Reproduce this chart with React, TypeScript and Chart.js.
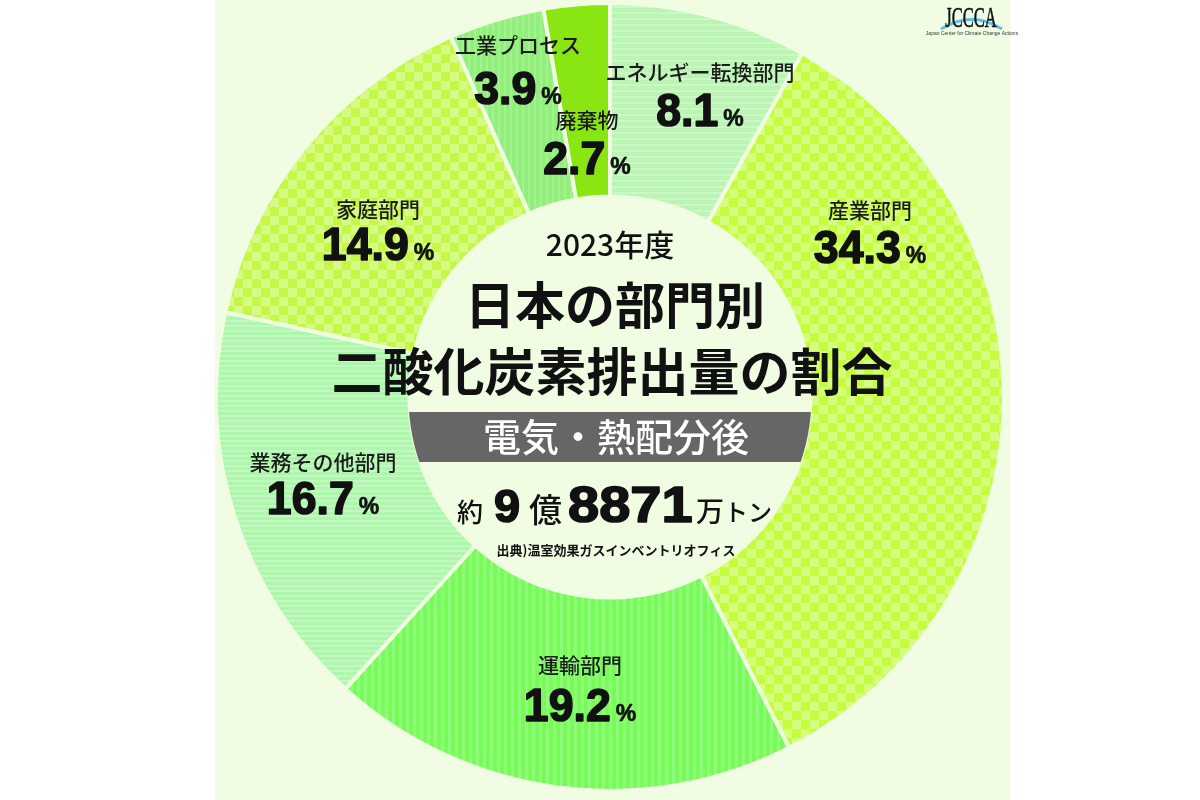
import React, { useEffect, useRef } from 'react';
import { Chart, registerables } from 'chart.js';

Chart.register(...registerables);

// ---- data ----
const sectors = ['エネルギー転換部門', '産業部門', '運輸部門', '業務その他部門', '家庭部門', '工業プロセス', '廃棄物'];
const shares = [8.1, 34.3, 19.2, 16.7, 14.9, 3.9, 2.7];
const shareTexts = ['8.1', '34.3', '19.2', '16.7', '14.9', '3.9', '2.7'];

// label placement (text only)
const labelX = [700, 870, 580, 323, 378, 518, 587];
const nameY = [72, 210, 665, 462, 209, 45, 120];
const pctBaseY = [126, 263, 721, 514, 260, 104, 174];

const titleYear = '2023年度';
const titleLine1 = '日本の部門別';
const titleLine2 = '二酸化炭素排出量の割合';
const subTitle = '電気・熱配分後';
const sourceText = '出典)温室効果ガスインベントリオフィス';

const JP = '"Noto Sans CJK JP", "Noto Sans", sans-serif';
const NUM = '"Liberation Sans", Arial, sans-serif';
const BG = '#f0fde3';

function stripePattern(a: string, b: string, period: number, lightW: number, vertical: boolean) {
  const c = document.createElement('canvas');
  c.width = period;
  c.height = period;
  const g = c.getContext('2d')!;
  g.fillStyle = a;
  g.fillRect(0, 0, period, period);
  g.fillStyle = b;
  if (vertical) g.fillRect(0, 0, lightW, period);
  else g.fillRect(0, 0, period, lightW);
  return g.createPattern(c, 'repeat')!;
}

function checkerPattern(a: string, b: string, cell: number) {
  const c = document.createElement('canvas');
  c.width = cell * 2;
  c.height = cell * 2;
  const g = c.getContext('2d')!;
  g.fillStyle = a;
  g.fillRect(0, 0, cell * 2, cell * 2);
  g.fillStyle = b;
  g.fillRect(0, 0, cell, cell);
  g.fillRect(cell, cell, cell, cell);
  return g.createPattern(c, 'repeat')!;
}

function txt(ctx: CanvasRenderingContext2D, s: string, x: number, y: number, font: string, color: string,
  align: CanvasTextAlign = 'center', base: CanvasTextBaseline = 'middle', sx = 1, stroke = 0) {
  ctx.save();
  ctx.font = font;
  ctx.fillStyle = color;
  ctx.textAlign = align;
  ctx.textBaseline = base;
  ctx.translate(x, y);
  ctx.scale(sx, 1);
  ctx.fillText(s, 0, 0);
  if (stroke > 0) {
    ctx.strokeStyle = color;
    ctx.lineWidth = stroke;
    ctx.lineJoin = 'round';
    ctx.strokeText(s, 0, 0);
  }
  ctx.restore();
}

const decorPlugin = {
  id: 'decor',
  beforeDraw(chart: any) {
    const ctx = chart.ctx as CanvasRenderingContext2D;
    ctx.save();
    ctx.fillStyle = '#ffffff';
    ctx.fillRect(0, 0, chart.width, chart.height);
    ctx.fillStyle = BG;
    ctx.fillRect(215, 0, 795, chart.height);
    ctx.restore();
  },
  afterDraw(chart: any) {
    const ctx = chart.ctx as CanvasRenderingContext2D;
    const meta = chart.getDatasetMeta(0);
    const arc0 = meta.data[0];
    const cx = arc0.x;
    const cy = arc0.y;
    const inner = arc0.innerRadius;

    // segment labels
    for (let i = 0; i < sectors.length; i++) {
      txt(ctx, sectors[i], labelX[i], nameY[i], `500 21px ${JP}`, '#1a1a1a');
      ctx.save();
      ctx.font = `bold 46px ${NUM}`;
      const w1 = ctx.measureText(shareTexts[i]).width * 0.97;
      ctx.font = `bold 23px ${NUM}`;
      const w2 = ctx.measureText('%').width;
      ctx.restore();
      const gap = 5;
      const total = w1 + gap + w2;
      const left = labelX[i] - total / 2;
      txt(ctx, shareTexts[i], left, pctBaseY[i], `bold 46px ${NUM}`, '#111', 'left', 'alphabetic', 0.97, 1.6);
      txt(ctx, '%', left + w1 + gap, pctBaseY[i], `bold 23px ${NUM}`, '#111', 'left', 'alphabetic', 1, 0.6);
    }

    // center texts
    txt(ctx, titleYear, cx, 245, `500 30px ${JP}`, '#111');
    txt(ctx, titleLine1, cx + 5, 305, `bold 50px ${JP}`, '#111');
    txt(ctx, titleLine2, cx + 2, 372, `bold 51px ${JP}`, '#111');

    // grey band
    ctx.save();
    ctx.beginPath();
    ctx.arc(cx, cy, inner + 1, 0, Math.PI * 2);
    ctx.clip();
    ctx.fillStyle = '#666666';
    ctx.fillRect(cx - 205, 412, 410, 50);
    ctx.restore();
    txt(ctx, subTitle, cx + 6, 437, `500 38px ${JP}`, '#ffffff');

    // total
    const base = 522;
    txt(ctx, '約', 457, base, `500 26px ${JP}`, '#111', 'left', 'alphabetic');
    txt(ctx, '9', 494, base, `bold 47px ${NUM}`, '#111', 'left', 'alphabetic', 1, 1.6);
    txt(ctx, '億', 529, base, `500 33px ${JP}`, '#111', 'left', 'alphabetic');
    txt(ctx, '8871', 568, base, `bold 50px ${NUM}`, '#111', 'left', 'alphabetic', 1.12, 1.6);
    txt(ctx, '万', 696, base, `500 28px ${JP}`, '#111', 'left', 'alphabetic');
    txt(ctx, 'トン', 724, base - 1, `500 24px ${JP}`, '#111', 'left', 'alphabetic');

    txt(ctx, sourceText, 616, 550, `bold 13px ${JP}`, '#111');

    // logo
    ctx.save();
    ctx.strokeStyle = '#5fc0ea';
    ctx.lineWidth = 3;
    ctx.beginPath();
    ctx.moveTo(941, 29);
    ctx.quadraticCurveTo(972, 10, 1002, 29);
    ctx.stroke();
    ctx.restore();
    txt(ctx, 'JCCCA', 971, 19, `30px "Liberation Serif", serif`, '#111', 'center', 'middle', 0.55, 0.6);
    txt(ctx, 'Japan Center for Climate Change Actions', 972, 34, `5px ${NUM}`, '#333', 'center', 'middle');
  },
};

export default function App() {
  const ref = useRef<HTMLCanvasElement>(null);
  useEffect(() => {
    const canvas = ref.current!;
    const colors = [
      stripePattern('#bbf5b3', '#cbf8c5', 6, 2, false),
      checkerPattern('#c6fc3e', '#d5fd7e', 9),
      stripePattern('#78fb58', '#8efc78', 7, 3, true),
      stripePattern('#aff6ad', '#c2f9c0', 5, 2, false),
      checkerPattern('#c5f747', '#d5fa86', 9),
      stripePattern('#92ef7c', '#a2f290', 6, 2, true),
      '#8ae612',
    ];
    const chart = new Chart(canvas, {
      type: 'doughnut',
      data: {
        labels: sectors,
        datasets: [
          {
            data: shares,
            backgroundColor: colors as any,
            borderColor: BG,
            borderWidth: 4,
            hoverOffset: 0,
          },
        ],
      },
      options: {
        responsive: false,
        animation: false,
        radius: 394,
        cutout: 201,
        rotation: 0,
        layout: { padding: { left: 20, right: 0, top: 0, bottom: 6 } },
        plugins: {
          legend: { display: false },
          tooltip: { enabled: false },
        },
      } as any,
      plugins: [decorPlugin],
    });
    return () => chart.destroy();
  }, []);
  return (
    <div style={{ position: 'absolute', left: 0, top: 0, width: 1200, height: 800 }}>
      <canvas ref={ref} width={1200} height={800} style={{ display: 'block' }} />
    </div>
  );
}
